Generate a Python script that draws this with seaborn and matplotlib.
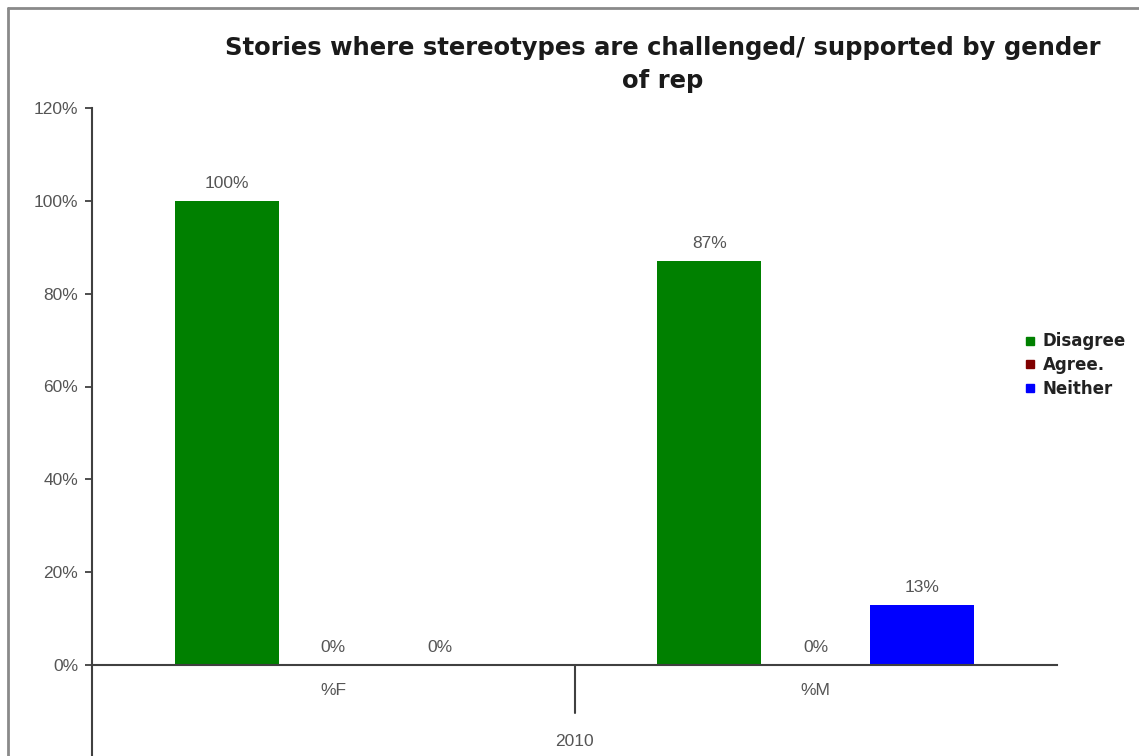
import matplotlib
matplotlib.use("Agg")
import matplotlib.pyplot as plt
import seaborn as sns
import pandas as pd
from matplotlib.lines import Line2D

categories = ["%F", "%M"]
series = ["Disagree", "Agree.", "Neither"]
disagree = [100, 87]
agree = [0, 0]
neither = [0, 13]
year_label = "2010"
title = "Stories where stereotypes are challenged/ supported by gender\nof rep"
colors = ["#008000", "#800000", "#0000FF"]

rows = []
for s, vals in zip(series, [disagree, agree, neither]):
    for c, v in zip(categories, vals):
        rows.append({"cat": c, "series": s, "value": v})
df = pd.DataFrame(rows)

sns.set_theme(style="white")
plt.rcParams["font.family"] = ["Liberation Sans", "DejaVu Sans"]

W, H = 1139, 756
fig = plt.figure(figsize=(W / 100, H / 100), dpi=100)
ax = fig.add_axes([92 / W, 1 - 665 / H, (1057 - 92) / W, (665 - 108) / H])

sns.barplot(data=df, x="cat", y="value", hue="series", order=categories,
            hue_order=series, palette=colors, width=0.6615, gap=0.025,
            saturation=1, ax=ax, legend=False, linewidth=0)

label_color = "#555555"
ax.set_xlim(-0.5, 1.5)
ax.set_ylim(0, 120)
ax.set_yticks(range(0, 121, 20))
ax.set_yticklabels([f"{t}%" for t in range(0, 121, 20)], fontsize=12.5, color=label_color)
ax.tick_params(axis="y", direction="out", length=5, width=1.3, color="#404040", left=True, pad=5)
ax.set_xticks([])
ax.set_xlabel("")
ax.set_ylabel("")
for side in ["top", "right"]:
    ax.spines[side].set_visible(False)
for side in ["left", "bottom"]:
    ax.spines[side].set_color("#404040")
    ax.spines[side].set_linewidth(1.5)

for cont in ax.containers:
    labels = [f"{int(round(b.get_height()))}%" for b in cont]
    ax.bar_label(cont, labels=labels, padding=7, fontsize=12.5, color=label_color)

trans = ax.get_xaxis_transform()
for i, c in enumerate(categories):
    ax.text(i, -0.045, c, transform=trans, ha="center", va="center", fontsize=12.5, color=label_color)
ax.text(0.5, -0.137, year_label, transform=trans, ha="center", va="center", fontsize=12.5, color=label_color)
ax.add_line(Line2D([0.5, 0.5], [0, -0.086], transform=trans, color="#404040", lw=1.5, clip_on=False))
ax.add_line(Line2D([-0.5, -0.5], [0, -0.3], transform=trans, color="#404040", lw=1.5, clip_on=False))

# outer chart border (top and left visible)
fig.add_artist(Line2D([8 / W, 1.0], [1 - 8 / H, 1 - 8 / H], transform=fig.transFigure, color="#8a8a8a", lw=2))
fig.add_artist(Line2D([8 / W, 8 / W], [0, 1 - 8 / H], transform=fig.transFigure, color="#8a8a8a", lw=2))

fig.text(663 / W, 1 - 36 / H, title, ha="center", va="top", fontsize=17.5,
         fontweight="bold", family="DejaVu Sans", color="#1a1a1a", linespacing=1.45)

handles = [Line2D([], [], marker="s", linestyle="none", markersize=5.5, color=col) for col in colors]
fig.legend(handles, series, loc="upper left", bbox_to_anchor=(1017 / W, 1 - 324 / H),
           frameon=False, handlelength=0.6, handletextpad=0.45, labelspacing=0.35,
           borderpad=0, prop={"family": "DejaVu Sans", "weight": "bold", "size": 12})
for t in fig.legends[0].get_texts():
    t.set_color("#222222")

fig.savefig("out.png", dpi=100)
